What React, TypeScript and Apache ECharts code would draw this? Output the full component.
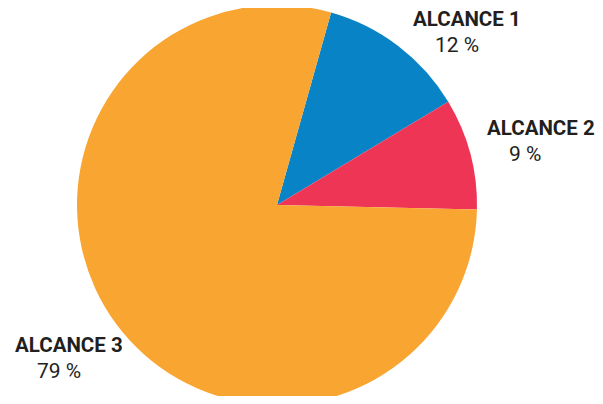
import React, { useEffect, useRef } from "react";
import * as echarts from "echarts";

const categories = ["ALCANCE 1", "ALCANCE 2", "ALCANCE 3"];
const values = [12, 9, 79];
const colors = ["#0884c6", "#ee3556", "#f8a531"];

const labelPos = [
  { x: 413, y: 7 },
  { x: 487, y: 116 },
  { x: 15, y: 333 },
];

export default function App() {
  const ref = useRef<HTMLDivElement>(null);
  useEffect(() => {
    const chart = echarts.init(ref.current!, undefined, { renderer: "svg" });
    chart.setOption({
      animation: false,
      series: [
        {
          type: "pie",
          center: [277, 205],
          radius: [0, 200],
          startAngle: 74.3,
          clockwise: true,
          avoidLabelOverlap: false,
          itemStyle: { borderWidth: 0 },
          label: {
            show: true,
            position: "outside",
            formatter: (p: any) => `{t|${p.name}}\n{v|${p.value} %}`,
            rich: {
              t: {
                fontFamily: "Roboto",
                fontWeight: "bold",
                fontSize: 20.5,
                lineHeight: 24,
                color: "#231f20",
              },
              v: {
                fontFamily: "Roboto",
                fontSize: 21,
                lineHeight: 27,
                color: "#231f20",
                padding: [0, 0, 0, 22],
              },
            },
          },
          labelLine: { show: false },
          labelLayout: (params: any) => {
            const p = labelPos[params.dataIndex];
            return { x: p.x, y: p.y, align: "left", verticalAlign: "top" };
          },
          data: categories.map((name, i) => ({
            name,
            value: values[i],
            itemStyle: { color: colors[i] },
          })),
        },
      ],
    });
    return () => chart.dispose();
  }, []);
  return <div ref={ref} style={{ width: 603, height: 404, margin: -8 }} />;
}
